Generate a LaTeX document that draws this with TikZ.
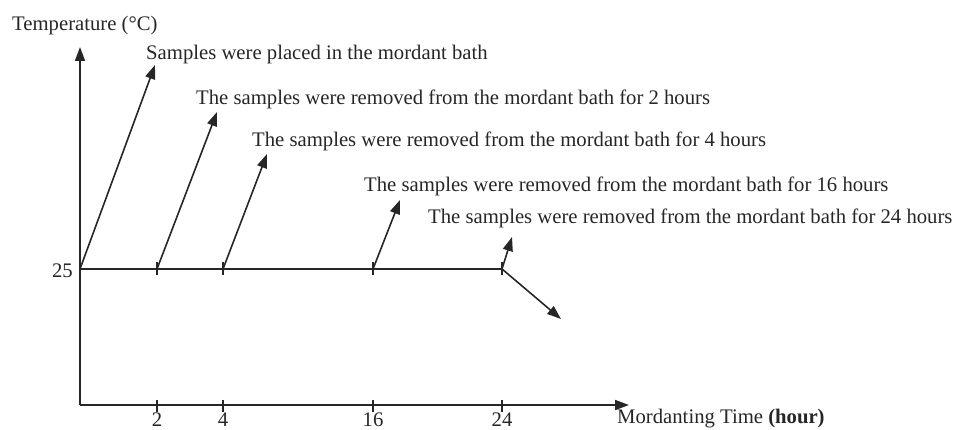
\documentclass[tikz,border=0pt]{standalone}
\usepackage{fontspec}
\setmainfont{Liberation Serif}
\usetikzlibrary{arrows.meta}
\begin{document}
\begin{tikzpicture}[x=1pt,y=-1pt,
  ln/.style={line width=1.6pt,draw=black!85},
  arr/.style={ln,-{Triangle[length=14pt,width=10pt]}},
  lbl/.style={inner sep=0pt,anchor=base west,font=\fontsize{20.7}{24}\selectfont,text=black!85},
  tk/.style={inner sep=0pt,anchor=base,font=\fontsize{20.7}{24}\selectfont,text=black!85}]
\useasboundingbox (0,0) rectangle (955,430);
% axes
\coordinate (O) at (80,405);
\coordinate (Ytop) at (80,47);
\coordinate (Xend) at (629,405);
\coordinate (L0) at (80,269);
\coordinate (L2) at (157,269);
\coordinate (L4) at (223,269);
\coordinate (L16) at (373,269);
\coordinate (L24) at (502,269);
\coordinate (B2) at (157,405);
\coordinate (B4) at (223,405);
\coordinate (B16) at (373,405);
\coordinate (B24) at (502,405);
\draw[arr] (O) -- (Ytop);
\draw[arr] (O) -- (Xend);
\draw[ln] (L0) -- (L24);
\foreach \p in {L2,L4,L16,L24}{\draw[ln] ([yshift=-6pt]\p) -- ([yshift=7pt]\p);}
\foreach \p in {B2,B4,B16,B24}{\draw[ln] ([yshift=-7pt]\p) -- ([yshift=5pt]\p);}
% arrow tips
\coordinate (T1) at (155,65);
\coordinate (T2) at (217,112);
\coordinate (T3) at (267,154);
\coordinate (T4) at (400,200);
\coordinate (T5) at (512,237);
\coordinate (T6) at (561,319);
\draw[arr] (L0) -- (T1);
\draw[arr] (L2) -- (T2);
\draw[arr] (L4) -- (T3);
\draw[arr] (L16) -- (T4);
\draw[arr] (L24) -- (T5);
\draw[arr] (L24) -- (T6);
% labels
\node[lbl] (ylab) at (12,31) {Temperature (°C)};
\node[lbl] (xlab) at (617,423) {Mordanting Time \textbf{(hour)}};
\node[tk] (n2) at (157,426) {2};
\node[tk] (n4) at (223,426) {4};
\node[tk] (n16) at (373,426) {16};
\node[tk] (n24) at (502,426) {24};
\node[tk,anchor=base east] (v25) at (73,277) {25};
\node[lbl] (a1) at (146,60) {Samples were placed in the mordant bath};
\node[lbl] (a2) at (196,105) {The samples were removed from the mordant bath for 2 hours};
\node[lbl] (a3) at (252,147) {The samples were removed from the mordant bath for 4 hours};
\node[lbl] (a4) at (364,192) {The samples were removed from the mordant bath for 16 hours};
\node[lbl] (a5) at (428,224) {The samples were removed from the mordant bath for 24 hours};
\end{tikzpicture}
\end{document}
